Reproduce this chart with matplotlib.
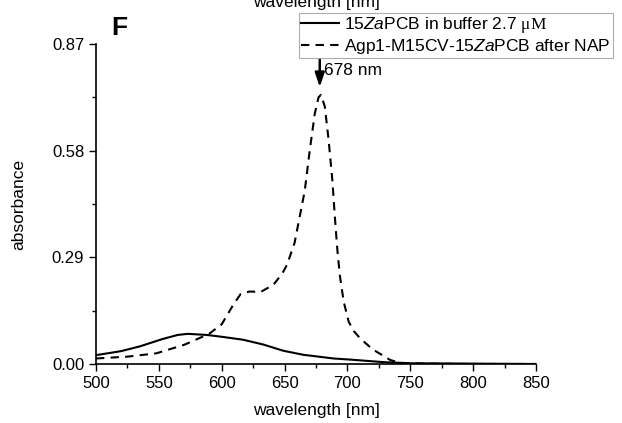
import matplotlib
matplotlib.use("Agg")
import matplotlib.pyplot as plt

plt.rcParams['font.family'] = ['Liberation Sans', 'DejaVu Sans']
plt.rcParams['mathtext.fontset'] = 'custom'
plt.rcParams['mathtext.it'] = 'Liberation Sans:italic'
plt.rcParams['mathtext.rm'] = 'Liberation Serif'

# Data
wl_free = [500, 520, 535, 553, 565, 573, 588, 600, 617, 633, 649, 665, 689, 702, 729, 750, 800, 850]
abs_free = [0.024, 0.035, 0.048, 0.068, 0.079, 0.082, 0.079, 0.074, 0.066, 0.053, 0.036, 0.025,
            0.015, 0.012, 0.005, 0.002, 0.001, 0.0]

wl_nap = [500, 525, 548, 570, 590, 600, 609, 615, 622, 631, 641, 648, 652, 658, 662, 666, 670, 674,
          677, 679, 682, 685, 688, 690, 692, 694, 697, 701, 705, 710, 720, 734, 742, 760, 800, 850]
abs_nap = [0.015, 0.020, 0.029, 0.052, 0.082, 0.108, 0.16, 0.19, 0.197, 0.196, 0.215, 0.245, 0.27,
           0.33, 0.40, 0.47, 0.58, 0.68, 0.725, 0.732, 0.70, 0.61, 0.50, 0.40, 0.31, 0.24, 0.17,
           0.115, 0.09, 0.07, 0.04, 0.011, 0.003, 0.001, 0.0, 0.0]

label_free = r'15$\it{Za}$PCB in buffer 2.7 $\mathrm{μM}$'
label_nap = r'Agp1-M15CV-15$\it{Za}$PCB after NAP'
yticks = [0.00, 0.29, 0.58, 0.87]
xticks = [500, 550, 600, 650, 700, 750, 800, 850]
peak_wl = 678

fig = plt.figure(figsize=(6.22, 4.23), dpi=100)
ax = fig.add_axes([96/622, 1-364/423, 440/622, 320/423])

l1, = ax.plot(wl_free, abs_free, color='black', lw=1.5)
l2, = ax.plot(wl_nap, abs_nap, color='black', lw=1.5, linestyle=(0, (4, 3)))

ax.set_xlim(500, 850)
ax.set_ylim(0, 0.87)
ax.set_xticks(xticks)
ax.set_xticks([525, 575, 625, 675, 725, 775, 825], minor=True)
ax.set_yticks(yticks)
ax.set_yticklabels([f'{v:.2f}' for v in yticks])
ax.set_yticks([0.145, 0.435, 0.725], minor=True)
ax.tick_params(axis='both', which='major', direction='out', length=5, width=1, labelsize=12)
ax.tick_params(axis='both', which='minor', direction='out', length=3, width=1)
for s in ['top', 'right']:
    ax.spines[s].set_visible(False)
for s in ['left', 'bottom']:
    ax.spines[s].set_linewidth(1.2)

ax.set_xlabel('wavelength [nm]', fontsize=12.5, labelpad=9)
ax.set_ylabel('absorbance', fontsize=12.5, labelpad=18)

ax.annotate('', xy=(peak_wl, 0.745), xytext=(peak_wl, 0.836),
            arrowprops=dict(arrowstyle='-|>,head_length=0.6,head_width=0.2', color='black',
                            lw=1.8, mutation_scale=14),
            annotation_clip=False)
ax.text(peak_wl + 3.5, 0.797, f'{peak_wl} nm', fontsize=12.5, va='center', ha='left')

fig.text(119/622, 1-28/423, 'F', fontsize=19, fontweight='bold', ha='center', va='center')
fig.text(316/622, 1-7/423, 'wavelength [nm]', fontsize=12.5, ha='center', va='baseline')

leg = fig.legend([l1, l2], [label_free, label_nap], loc='upper right',
                 bbox_to_anchor=(613/622, 1-13/423), fontsize=12.5, frameon=True,
                 fancybox=False, edgecolor='#9a9a9a', handlelength=2.2, handletextpad=0.3,
                 borderpad=0.12, labelspacing=0.1, borderaxespad=0)
leg.get_frame().set_linewidth(0.8)

fig.savefig('out.png', dpi=100)
